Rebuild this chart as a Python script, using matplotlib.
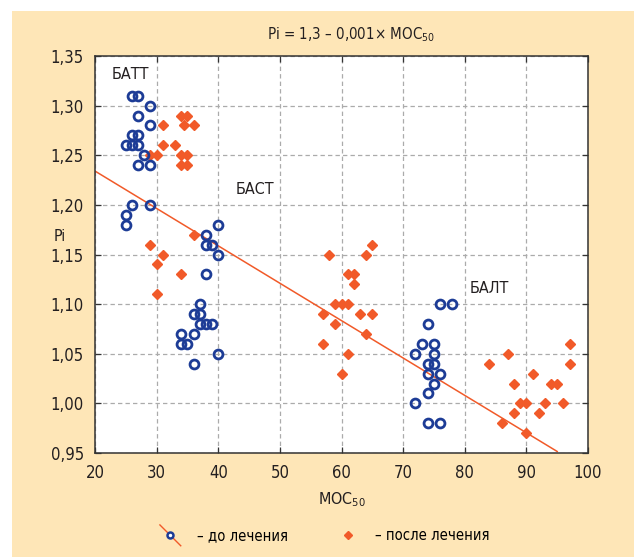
import numpy as np
import matplotlib
matplotlib.use('Agg')
import matplotlib.pyplot as plt
from matplotlib.lines import Line2D
from matplotlib.patches import Rectangle
from matplotlib.ticker import FuncFormatter, MultipleLocator
from matplotlib.legend_handler import HandlerLine2D
from matplotlib import font_manager

# ---------- data ----------
# before treatment (blue open circles)
before_x = [26, 27, 29, 27, 29, 26, 27, 25, 26, 27, 28, 27, 29,
            26, 29, 25, 25, 40, 38, 38, 39, 40, 38, 37, 36, 37,
            37, 38, 39, 34, 36, 34, 35, 40, 36,
            76, 78, 74, 73, 75, 72, 75, 74, 75, 74, 76, 75, 74, 72, 74, 76]
before_y = [1.31, 1.31, 1.30, 1.29, 1.28, 1.27, 1.27, 1.26, 1.26, 1.26, 1.25, 1.24, 1.24,
            1.20, 1.20, 1.19, 1.18, 1.18, 1.17, 1.16, 1.16, 1.15, 1.13, 1.10, 1.09, 1.09,
            1.08, 1.08, 1.08, 1.07, 1.07, 1.06, 1.06, 1.05, 1.04,
            1.10, 1.10, 1.08, 1.06, 1.06, 1.05, 1.05, 1.04, 1.04, 1.03, 1.03, 1.02, 1.01, 1.00, 0.98, 0.98]

# after treatment (orange diamonds)
after_x = [34, 35, 31, 34.5, 36, 31, 33, 29, 30, 34, 35, 34, 35,
           36, 29, 31, 30, 34, 30,
           65, 58, 64, 61, 62, 62, 59, 60, 61, 57, 63, 65, 59, 64, 57, 61, 60,
           97, 87, 84, 97, 91, 88, 94, 95, 89, 90, 93, 96, 88, 92, 86, 90]
after_y = [1.29, 1.29, 1.28, 1.28, 1.28, 1.26, 1.26, 1.25, 1.25, 1.25, 1.25, 1.24, 1.24,
           1.17, 1.16, 1.15, 1.14, 1.13, 1.11,
           1.16, 1.15, 1.15, 1.13, 1.13, 1.12, 1.10, 1.10, 1.10, 1.09, 1.09, 1.09, 1.08, 1.07, 1.06, 1.05, 1.03,
           1.06, 1.05, 1.04, 1.04, 1.03, 1.02, 1.02, 1.02, 1.00, 1.00, 1.00, 1.00, 0.99, 0.99, 0.98, 0.97]

# regression line as drawn
fit_x = [20, 95]
fit_a = 1.3094
fit_b = -0.003767

group_labels = ['БАТТ', 'БАСТ', 'БАЛТ']
group_pos = [(25.7, 1.331), (45.9, 1.215), (84.0, 1.116)]

legend_labels = ['– до лечения', '– после лечения']

BLUE = '#1d3c96'
ORANGE = '#f15a29'
BEIGE = '#fee6b7'
INK = '#231f20'

# a narrow face looks closest; fall back to condensed DejaVu
names = {f.name for f in font_manager.fontManager.ttflist}
if 'Liberation Sans Narrow' in names:
    plt.rcParams['font.family'] = ['Liberation Sans Narrow', 'DejaVu Sans']
    plt.rcParams['mathtext.rm'] = 'Liberation Sans Narrow'
else:
    plt.rcParams['font.family'] = ['DejaVu Sans']
    plt.rcParams['font.stretch'] = 'condensed'
    plt.rcParams['mathtext.rm'] = 'DejaVu Sans:stretch=condensed'
plt.rcParams['mathtext.fontset'] = 'custom'


class DiagHandler(HandlerLine2D):
    """legend key: red diagonal stroke with a small blue ring"""
    def create_artists(self, legend, orig_handle, xdescent, ydescent,
                       width, height, fontsize, trans):
        cx, cy = width / 2 - xdescent, height / 2 - ydescent
        d = 7.5
        stroke = Line2D([cx - d, cx + d], [cy + d, cy - d], color=ORANGE, lw=1.0)
        ring = Line2D([cx], [cy], ls='none', marker='o', ms=4.3, mfc='white',
                      mec=BLUE, mew=1.8)
        stroke.set_transform(trans)
        ring.set_transform(trans)
        return [stroke, ring]


fig = plt.figure(figsize=(6.34, 5.57), dpi=100)
fig.patch.set_facecolor('white')
fig.patches.append(Rectangle((12 / 634, 0), 1, 1 - 11 / 557, transform=fig.transFigure,
                             facecolor=BEIGE, edgecolor='none', zorder=-10))

ax = fig.add_axes([95 / 634, 1 - 453 / 557, 493 / 634, 397 / 557])
ax.set_facecolor('white')

ax.grid(True, color='#ababab', ls=(0, (3.5, 2.5)), lw=0.9)
ax.set_axisbelow(True)

xx = np.array(fit_x, dtype=float)
ax.plot(xx, fit_a + fit_b * xx, color=ORANGE, lw=1.1, zorder=2)

ax.plot(after_x, after_y, ls='none', marker='D', ms=4.8, color=ORANGE, mec=ORANGE, zorder=3)
ax.plot(before_x, before_y, ls='none', marker='o', ms=6.4, mfc='none', mec=BLUE, mew=2.0, zorder=4)

for lab, (gx, gy) in zip(group_labels, group_pos):
    ax.text(gx, gy, lab, fontsize=11.5, ha='center', va='center', color=INK)

ax.set_xlim(20, 100)
ax.set_ylim(0.95, 1.35)
ax.xaxis.set_major_locator(MultipleLocator(10))
ax.yaxis.set_major_locator(MultipleLocator(0.05))
ax.yaxis.set_major_formatter(FuncFormatter(lambda v, p: f'{v:.2f}'.replace('.', ',')))
ax.tick_params(direction='in', length=4, width=0.9, color='#333333', labelsize=12,
               top=True, right=True, labelcolor=INK, pad=8)
for s in ax.spines.values():
    s.set_linewidth(1.1)
    s.set_color('#333333')

ax.set_title(r'Pi = 1,3 – 0,001× МОС$_{\mathregular{50}}$', fontsize=10.8, pad=12,
             color=INK, x=0.52)
ax.set_xlabel(r'МОС$_{\mathregular{50}}$', fontsize=11.5, labelpad=6, color=INK)
ax.set_ylabel('Pi', fontsize=11.5, rotation=0, va='center', ha='center', color=INK)
ax.yaxis.set_label_coords(-0.071, 0.545)

h1 = Line2D([], [], color=ORANGE)
h2 = Line2D([], [], ls='none', marker='D', ms=4.2, color=ORANGE)
fig.legend([h1, h2], legend_labels, handler_map={h1: DiagHandler()},
           loc='center', bbox_to_anchor=(0.512, 1 - 536 / 557), ncol=2, frameon=False,
           fontsize=10.6, handlelength=1.4, handletextpad=1.1, columnspacing=3.4)

fig.savefig('out.png', dpi=100, facecolor=fig.get_facecolor())
